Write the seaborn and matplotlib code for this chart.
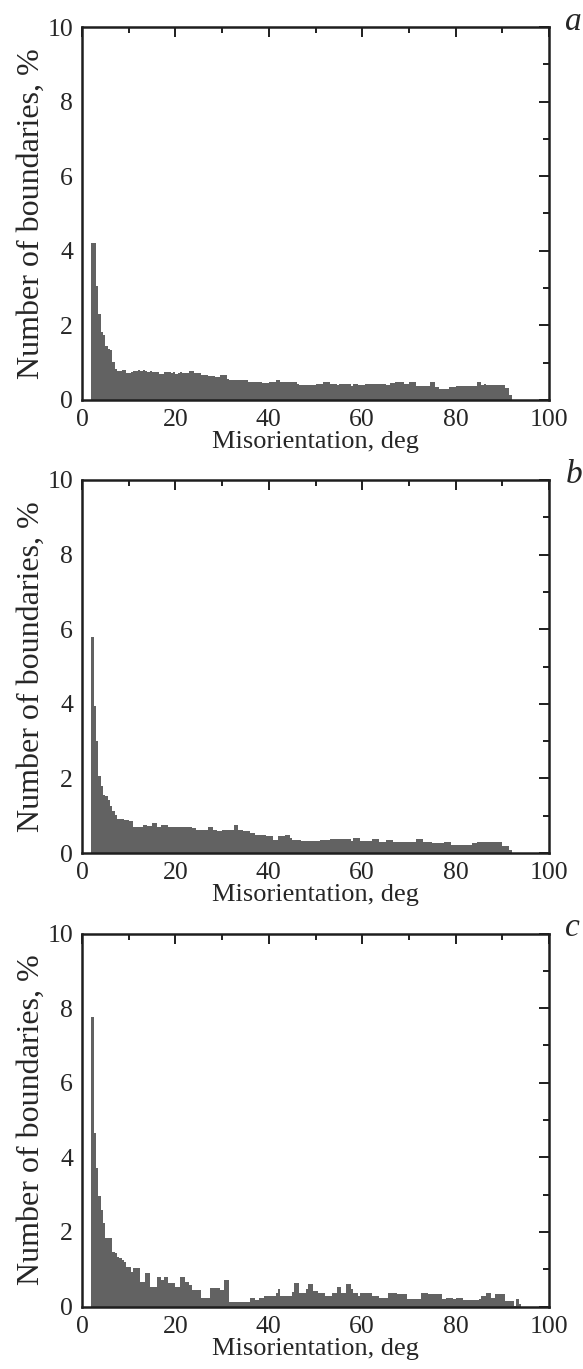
import numpy as np
import pandas as pd
import matplotlib
matplotlib.use("Agg")
import matplotlib.pyplot as plt
from matplotlib.ticker import MultipleLocator
import seaborn as sns

# histogram heights (% of boundaries), 0.5 deg bins starting at 2 deg
bin_width = 0.5
start_deg = 2.0

vals_a = [
    4.22, 4.22, 3.06, 2.31, 1.82, 1.73, 1.46, 1.37, 1.33, 1.01,
    0.83, 0.79, 0.79, 0.80, 0.80, 0.73, 0.73, 0.75, 0.78, 0.78,
    0.80, 0.78, 0.80, 0.78, 0.76, 0.77, 0.76, 0.74, 0.76, 0.70,
    0.70, 0.76, 0.76, 0.74, 0.72, 0.74, 0.70, 0.72, 0.74, 0.72,
    0.72, 0.72, 0.78, 0.78, 0.73, 0.73, 0.73, 0.67, 0.67, 0.67,
    0.65, 0.65, 0.65, 0.61, 0.61, 0.67, 0.67, 0.67, 0.56, 0.53,
    0.53, 0.53, 0.53, 0.53, 0.53, 0.53, 0.53, 0.48, 0.48, 0.47,
    0.47, 0.47, 0.47, 0.45, 0.45, 0.45, 0.47, 0.47, 0.47, 0.53,
    0.53, 0.47, 0.47, 0.47, 0.47, 0.47, 0.47, 0.47, 0.43, 0.40,
    0.40, 0.40, 0.39, 0.39, 0.39, 0.39, 0.43, 0.43, 0.43, 0.47,
    0.47, 0.47, 0.43, 0.43, 0.43, 0.40, 0.42, 0.42, 0.42, 0.42,
    0.42, 0.38, 0.42, 0.42, 0.40, 0.40, 0.40, 0.42, 0.42, 0.42,
    0.42, 0.42, 0.42, 0.42, 0.42, 0.42, 0.39, 0.39, 0.45, 0.45,
    0.47, 0.47, 0.47, 0.47, 0.43, 0.43, 0.47, 0.47, 0.47, 0.38,
    0.38, 0.38, 0.38, 0.38, 0.38, 0.47, 0.47, 0.36, 0.36, 0.30,
    0.30, 0.30, 0.30, 0.36, 0.36, 0.36, 0.38, 0.38, 0.38, 0.38,
    0.38, 0.38, 0.38, 0.38, 0.38, 0.47, 0.47, 0.39, 0.43, 0.39,
    0.39, 0.39, 0.39, 0.39, 0.39, 0.39, 0.39, 0.31, 0.31, 0.13,
]

vals_b = [
    5.80, 3.93, 2.99, 2.07, 1.79, 1.56, 1.52, 1.43, 1.25, 1.12,
    1.03, 0.91, 0.91, 0.91, 0.89, 0.89, 0.85, 0.85, 0.71, 0.71,
    0.71, 0.71, 0.75, 0.75, 0.73, 0.73, 0.80, 0.80, 0.71, 0.71,
    0.74, 0.74, 0.74, 0.71, 0.71, 0.69, 0.71, 0.71, 0.69, 0.69,
    0.70, 0.69, 0.69, 0.66, 0.66, 0.63, 0.63, 0.63, 0.63, 0.63,
    0.71, 0.71, 0.63, 0.63, 0.60, 0.60, 0.63, 0.63, 0.63, 0.63,
    0.63, 0.74, 0.74, 0.63, 0.63, 0.60, 0.58, 0.58, 0.54, 0.54,
    0.49, 0.49, 0.49, 0.49, 0.49, 0.45, 0.45, 0.45, 0.36, 0.36,
    0.45, 0.45, 0.45, 0.49, 0.49, 0.40, 0.36, 0.36, 0.36, 0.36,
    0.31, 0.31, 0.31, 0.31, 0.31, 0.31, 0.31, 0.31, 0.36, 0.36,
    0.36, 0.36, 0.38, 0.38, 0.38, 0.38, 0.38, 0.38, 0.38, 0.38,
    0.38, 0.33, 0.39, 0.39, 0.39, 0.31, 0.31, 0.31, 0.31, 0.31,
    0.38, 0.38, 0.38, 0.30, 0.30, 0.30, 0.36, 0.36, 0.36, 0.30,
    0.30, 0.30, 0.30, 0.30, 0.30, 0.30, 0.30, 0.30, 0.30, 0.38,
    0.38, 0.38, 0.30, 0.30, 0.30, 0.30, 0.27, 0.27, 0.27, 0.27,
    0.27, 0.30, 0.30, 0.30, 0.21, 0.21, 0.21, 0.21, 0.21, 0.21,
    0.21, 0.21, 0.21, 0.27, 0.27, 0.30, 0.30, 0.30, 0.30, 0.30,
    0.30, 0.30, 0.30, 0.30, 0.30, 0.30, 0.18, 0.18, 0.18, 0.07,
]

vals_c = [
    7.75, 4.65, 3.71, 2.95, 2.59, 2.23, 1.83, 1.83, 1.83, 1.47,
    1.43, 1.34, 1.29, 1.25, 1.20, 1.07, 1.07, 0.93, 1.02, 1.02,
    1.02, 0.67, 0.67, 0.89, 0.89, 0.53, 0.53, 0.53, 0.80, 0.80,
    0.71, 0.80, 0.80, 0.62, 0.62, 0.62, 0.53, 0.53, 0.80, 0.80,
    0.67, 0.67, 0.58, 0.44, 0.44, 0.44, 0.44, 0.22, 0.22, 0.22,
    0.22, 0.49, 0.49, 0.49, 0.49, 0.44, 0.44, 0.71, 0.71, 0.12,
    0.12, 0.12, 0.12, 0.12, 0.12, 0.12, 0.12, 0.12, 0.22, 0.22,
    0.18, 0.18, 0.22, 0.22, 0.29, 0.29, 0.29, 0.29, 0.29, 0.36,
    0.46, 0.27, 0.27, 0.28, 0.28, 0.28, 0.40, 0.64, 0.64, 0.37,
    0.37, 0.37, 0.46, 0.60, 0.60, 0.42, 0.42, 0.37, 0.37, 0.37,
    0.28, 0.28, 0.28, 0.37, 0.37, 0.51, 0.51, 0.37, 0.37, 0.60,
    0.60, 0.46, 0.37, 0.37, 0.28, 0.37, 0.37, 0.37, 0.37, 0.37,
    0.28, 0.28, 0.28, 0.24, 0.24, 0.24, 0.24, 0.37, 0.37, 0.37,
    0.37, 0.33, 0.33, 0.33, 0.33, 0.20, 0.20, 0.20, 0.20, 0.20,
    0.20, 0.37, 0.37, 0.37, 0.33, 0.33, 0.33, 0.33, 0.33, 0.33,
    0.20, 0.20, 0.24, 0.24, 0.24, 0.20, 0.24, 0.24, 0.24, 0.17,
    0.17, 0.17, 0.17, 0.17, 0.17, 0.17, 0.21, 0.28, 0.28, 0.37,
    0.37, 0.24, 0.24, 0.33, 0.33, 0.33, 0.33, 0.15, 0.15, 0.15,
    0.15, 0.02, 0.20, 0.06,
]

panel_labels = ["a", "b", "c"]
x_ticks = [0, 20, 40, 60, 80, 100]
y_ticks = [0, 2, 4, 6, 8, 10]

sns.set_style("white")
plt.rcParams["font.family"] = ["Liberation Serif", "DejaVu Serif"]

fig = plt.figure(figsize=(5.83, 13.69), dpi=100)
H = 1369.0
W = 583.0
left = 82 / W
width = (549 - 82) / W
height = 373 / H
bottoms = [1 - 400 / H, 1 - 853 / H, 1 - 1306.5 / H]

for vals, lab, bot in zip([vals_a, vals_b, vals_c], panel_labels, bottoms):
    ax = fig.add_axes([left, bot, width, height])
    n = len(vals)
    centers = start_deg + bin_width * (np.arange(n) + 0.5)
    df = pd.DataFrame({"angle": centers, "pct": vals})
    sns.histplot(data=df, x="angle", weights="pct", binwidth=bin_width,
                 binrange=(start_deg, start_deg + bin_width * n),
                 element="step", fill=True, color="#626262", alpha=1,
                 linewidth=0, ax=ax)
    ax.set_xlim(0, 100)
    ax.set_ylim(0, 10)
    ax.set_xticks(x_ticks)
    ax.set_yticks(y_ticks)
    ax.xaxis.set_minor_locator(MultipleLocator(10))
    ax.yaxis.set_minor_locator(MultipleLocator(1))
    ax.tick_params(which="both", direction="in", top=True, right=True,
                   labelsize=18.5, width=1.4, color="#1e1e1e", pad=6.5)
    ax.tick_params(which="major", length=7)
    ax.tick_params(which="minor", length=4.5)
    for s in ax.spines.values():
        s.set_linewidth(1.8)
        s.set_color("#1e1e1e")
    ax.set_xlabel("Misorientation, deg", fontsize=19, labelpad=0)
    ax.set_ylabel("Number of boundaries, %", fontsize=23, labelpad=1)
    ax.text(1.035, 1.015, lab, transform=ax.transAxes, fontsize=24,
            style="italic", ha="left", va="center")

fig.savefig("out.png", dpi=100)
